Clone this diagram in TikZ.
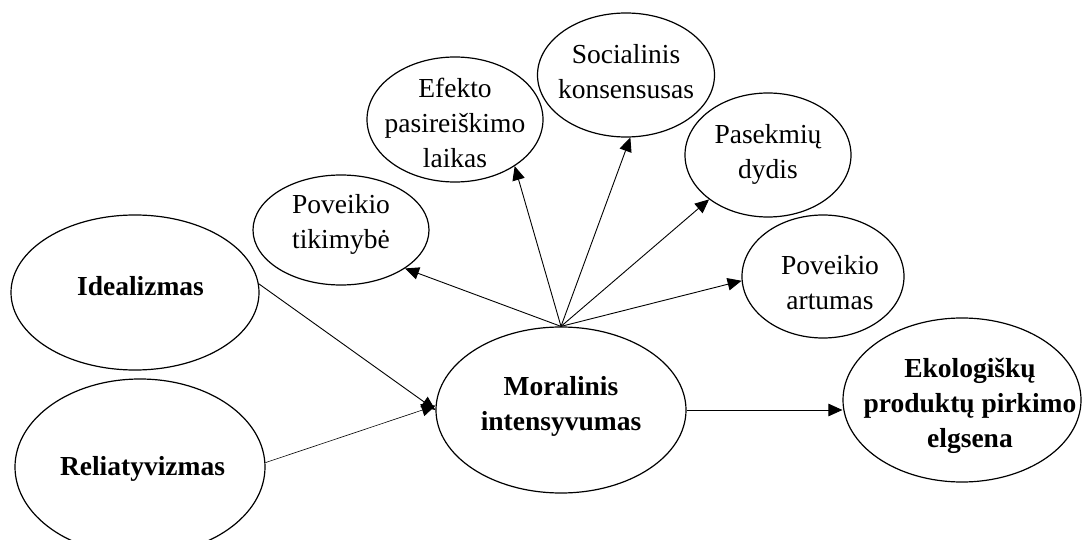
\documentclass[tikz,border=0pt]{standalone}
\usepackage{fontspec}
\setmainfont{Liberation Serif}
\usetikzlibrary{shapes.geometric,arrows.meta}

\tikzset{
  oval/.style={ellipse, draw, line width=1.2pt, inner sep=0pt},
  txt/.style={font=\fontsize{27.5}{35}\selectfont, align=center, inner sep=0pt},
  btxt/.style={txt, font=\fontsize{27.5}{35}\selectfont\bfseries},
  link/.style={line width=0.9pt, -{Triangle[length=14pt,width=12.5pt]}},
  thinlink/.style={line width=0.6pt, -{Triangle[length=14pt,width=12.5pt]}}
}

\begin{document}
\begin{tikzpicture}[x=1pt,y=-1pt]
\useasboundingbox (0,0) rectangle (1082,540);

% outer constructs
\node[oval, minimum width=248, minimum height=155,
      label={[btxt,xshift=5.5pt,yshift=6pt]center:Idealizmas}] (id) at (135,292.5) {};
\node[oval, minimum width=250, minimum height=176,
      label={[btxt,xshift=2.5pt,yshift=-2pt]center:Reliatyvizmas}] (re) at (140,467) {};
\node[oval, minimum width=250, minimum height=166,
      label={[btxt,yshift=3.5pt]center:Moralinis\\intensyvumas}] (mi) at (561,410) {};
\node[oval, minimum width=238, minimum height=164,
      label={[btxt,xshift=8pt,yshift=-6pt]center:Ekologiškų\\produktų pirkimo\\elgsena}] (ek) at (962,400) {};

% dimensions of moral intensity
\node[oval, minimum width=176, minimum height=110,
      label={[txt,yshift=5.5pt]center:Poveikio\\tikimybė}] (pt) at (341,230) {};
\node[oval, minimum width=176, minimum height=125,
      label={[txt,yshift=-3.5pt]center:Efekto\\pasireiškimo\\laikas}] (ef) at (455,119.5) {};
\node[oval, minimum width=177, minimum height=124,
      label={[txt,yshift=3.5pt]center:Socialinis\\konsensusas}] (so) at (626,75) {};
\node[oval, minimum width=166, minimum height=124,
      label={[txt,yshift=1pt]center:Pasekmių\\dydis}] (pa) at (768,155) {};
\node[oval, minimum width=162, minimum height=123,
      label={[txt,xshift=7pt,yshift=-6pt]center:Poveikio\\artumas}] (pr) at (823,276.5) {};

% fan of arrows from the top of the central construct
\draw[link] (mi.north) -- (pt.-31);
\draw[link] (mi.north) -- (ef.-38);
\draw[link] (mi.north) -- (so.-86);
\draw[link] (mi.north) -- (pa.-143);
\draw[link] (mi.north) -- (pr.-177.5);

% antecedents and outcome
\draw[link] (id.4) -- (mi.west);
\draw[thinlink] (re.2) -- (mi.178);
\draw[link] (mi.east) -- (mi.east -| ek.west);
\end{tikzpicture}
\end{document}
